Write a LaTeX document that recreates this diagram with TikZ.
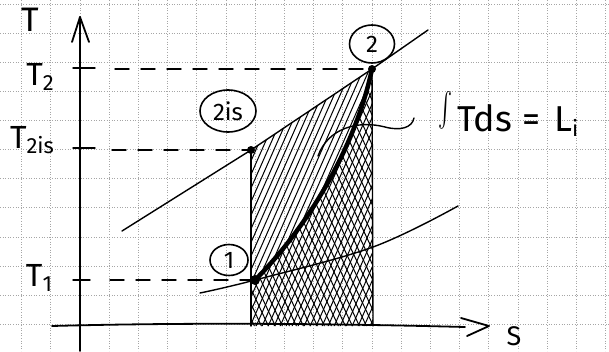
\documentclass[tikz,border=0pt]{standalone}
\usepackage{graphicx}
\usepackage{fontspec}
\setmainfont{Fira Sans}
\usetikzlibrary{shapes.geometric}
\tikzset{
  gridline/.style={gray!70, line width=0.6pt, dotted},
  ink/.style={black, line width=1.4pt, line cap=round, line join=round},
  dashln/.style={ink, dash pattern=on 14pt off 12pt},
  hatch/.style={black, line width=1pt},
  lbl/.style={font=\fontsize{32}{32}\selectfont, inner sep=0pt},
  ptlbl/.style={ellipse, draw, line width=1.6pt, font=\fontsize{24}{24}\selectfont, inner sep=0pt},
  dot/.style={circle, fill=black, inner sep=0pt, minimum size=8pt}
}
\newcommand{\subsc}[1]{\raisebox{-5pt}{\fontsize{22}{22}\selectfont #1}}
\begin{document}
\begin{tikzpicture}[x=1pt,y=-1pt]
\useasboundingbox (0,0) rectangle (609,351);
\fill[white] (0,0) rectangle (609,351);
% grid paper
\foreach \i in {0,...,20} \draw[gridline] (21.4+29.2*\i,0) -- (21.4+29.2*\i,351);
\foreach \j in {0,...,12} \draw[gridline] (0,4+29.1*\j) -- (609,4+29.1*\j);

% key points
\coordinate (p1) at (255,280);
\coordinate (p2) at (372,69);
\coordinate (p2is) at (251,150);
\coordinate (b1) at (251,326);
\coordinate (b2) at (373,326);

% hatching of area under 2is-2
\begin{scope}
  \clip (p2is) -- (p2) -- (b2) -- (b1) -- cycle;
  \foreach \x in {100,106,...,400} \draw[hatch] (\x,340) -- (\x+150,0);
\end{scope}
% cross hatching under 1-2
\begin{scope}
  \clip (p1) .. controls (305,230) and (355,150) .. (p2) -- (b2) -- (b1) -- (251,280) -- cycle;
  \foreach \x in {240,247,...,560} \draw[hatch] (\x,340) -- (\x-160,0);
\end{scope}
\draw[ink] (p2is) -- (b1);
\draw[ink] (p2) -- (b2);

% axes
\coordinate (yb) at (80,351);
\coordinate (yt) at (80,17);
\coordinate (xl) at (52,326);
\coordinate (xr) at (465,327);
\draw[ink, line width=1.8pt] (yb) -- (yt);
\draw[ink, line width=1.8pt] (72,42) -- (yt) -- (89,42);
\draw[ink, line width=1.8pt] (xl) .. controls (200,322) and (350,324) .. (xr);
\draw[ink, line width=1.8pt] (461,318) -- (489,326) -- (467,336);

% isobars
\draw[ink] (122,231) -- (p2is) -- (p2) -- (428,30);
\draw[ink] plot[smooth, tension=0.6] coordinates {(200,293) (p1) (373,247) (458,206)};

% process 1-2
\draw[black, line width=4.5pt, line cap=round] (p1) .. controls (305,230) and (355,150) .. (p2);

% dots
\node[dot] at (p2) {};
\node[dot] at (p2is) {};
\node[dot, minimum size=10pt] at (p1) {};

% ticks and dashed levels
\coordinate (t2) at (73,68);
\coordinate (t2is) at (73,148);
\coordinate (t1) at (73,280);
\draw[ink] (t2) -- ++(22,0);
\draw[ink] (t2is) -- ++(22,0);
\draw[ink] (t1) -- ++(17,0);
\draw[dashln] (115,69) -- (p2);
\draw[dashln] (112,150) -- (p2is);
\draw[dashln] (110,280) -- (p1);

% axis labels
\node[lbl, font=\fontsize{34}{34}\selectfont] (tl) at (30,20) {T};
\node[lbl] (t2l) at (40,77) {T\subsc{2}};
\node[lbl] (t2isl) at (32,140) {T\subsc{2is}};
\node[lbl] (t1l) at (39,278) {T\subsc{1}};
\node[lbl, font=\fontsize{27}{27}\selectfont, anchor=base] (sl) at (514,345) {S};

% point labels
\node[ptlbl, minimum width=45pt, minimum height=38pt] (l2) at (372,44) {2};
\node[ptlbl, minimum width=56pt, minimum height=42pt] (l2is) at (228,111) {2is};
\node[ptlbl, minimum width=38pt, minimum height=31pt] (l1) at (229,260) {1};

% brace tail to the integral
\coordinate (bs) at (318,156);
\coordinate (be) at (414,118);
\draw[ink] (bs) .. controls (328,128) and (358,120) .. (385,127) .. controls (400,131) and (412,128) .. (be);
\node[lbl, anchor=west, font=\fontsize{36}{36}\selectfont] (integ) at (438,114) {\resizebox{14pt}{40pt}{$\int$}\kern5pt Tds\kern10pt=\kern14pt L\subsc{i}};
\end{tikzpicture}
\end{document}
